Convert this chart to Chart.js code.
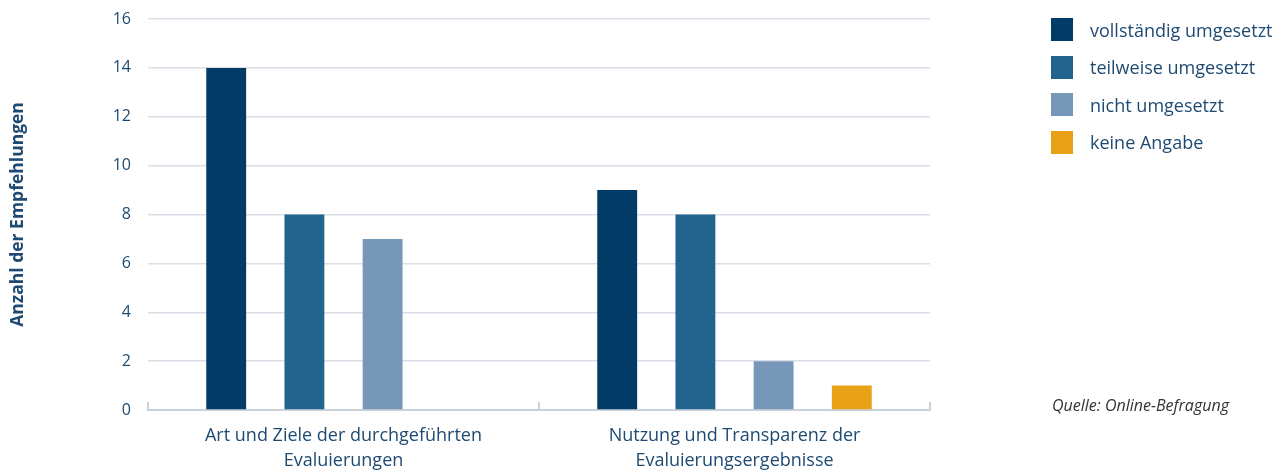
<!DOCTYPE html>
<html>
<head>
<meta charset="utf-8">
<script src="https://cdn.jsdelivr.net/npm/chart.js@4/dist/chart.umd.min.js"></script>
<style>
  html, body { margin: 0; padding: 0; background: #fff; }
  #wrap { position: relative; width: 1283px; height: 475px; }
  #c { position: absolute; left: 0; top: 0; }
  .legend { position: absolute; left: 1051px; top: 18px; font-family: "Open Sans", sans-serif; font-size: 18px; color: #1E4A72; }
  .legend .item { display: flex; align-items: center; height: 23px; margin-bottom: 14.5px; }
  .legend .sw { width: 22px; height: 23px; margin-right: 17px; flex: none; }
  .source { position: absolute; left: 1052px; top: 394px; font-family: "Open Sans", sans-serif; font-style: italic; font-size: 16px; color: #333; }
</style>
</head>
<body>
<div id="wrap">
  <canvas id="c" width="1283" height="475"></canvas>
  <div class="legend" id="legend"></div>
  <div class="source">Quelle: Online-Befragung</div>
</div>
<script>
const categories = [
  ["Art und Ziele der durchgeführten", "Evaluierungen"],
  ["Nutzung und Transparenz der", "Evaluierungsergebnisse"]
];
const seriesNames = ["vollständig umgesetzt", "teilweise umgesetzt", "nicht umgesetzt", "keine Angabe"];
const vollstaendig = [14, 9];
const teilweise = [8, 8];
const nicht = [7, 2];
const keineAngabe = [0, 1];
const seriesColors = ["#023B66", "#22648D", "#7697B8", "#E9A117"];
const yTicks = [0, 2, 4, 6, 8, 10, 12, 14, 16];

const seriesValues = [vollstaendig, teilweise, nicht, keineAngabe];
const textColor = "#1E4A72";

const legendEl = document.getElementById('legend');
seriesNames.forEach((n, i) => {
  const d = document.createElement('div');
  d.className = 'item';
  d.innerHTML = '<span class="sw" style="background:' + seriesColors[i] + '"></span><span>' + n + '</span>';
  legendEl.appendChild(d);
});

const catTicks = {
  id: 'catTicks',
  afterDraw(chart) {
    const x = chart.scales.x;
    const ctx = chart.ctx;
    const n = chart.data.labels.length;
    const xs = [chart.chartArea.left];
    for (let i = 1; i < n; i++) xs.push((x.getPixelForValue(i - 1) + x.getPixelForValue(i)) / 2);
    xs.push(chart.chartArea.right);
    const yb = chart.chartArea.bottom;
    ctx.save();
    ctx.strokeStyle = '#C9D1DB';
    ctx.lineWidth = 2;
    xs.forEach(px => {
      ctx.beginPath();
      ctx.moveTo(Math.round(px), yb);
      ctx.lineTo(Math.round(px), yb - 8);
      ctx.stroke();
    });
    ctx.restore();
  }
};

new Chart(document.getElementById('c'), {
  type: 'bar',
  data: {
    labels: categories,
    datasets: seriesNames.map((n, i) => ({
      label: n,
      data: seriesValues[i],
      backgroundColor: seriesColors[i],
      borderWidth: 0,
      categoryPercentage: 0.8,
      barPercentage: 0.51
    }))
  },
  options: {
    responsive: false,
    animation: false,
    layout: { padding: { left: 0, right: 353, top: 19, bottom: 0 } },
    plugins: { legend: { display: false }, tooltip: { enabled: false } },
    scales: {
      x: {
        offset: true,
        grid: { display: false, drawTicks: false },
        border: { display: true, color: '#C9D1DB', width: 2 },
        ticks: { color: textColor, padding: 14, font: { family: 'Open Sans', size: 18, lineHeight: 1.35 } },
        afterFit(s) { s.height = 65; s.paddingLeft = 0; s.paddingRight = 0; }
      },
      y: {
        min: 0, max: 16,
        afterBuildTicks(s) { s.ticks = yTicks.map(v => ({ value: v })); },
        grid: { color: '#D9DFE7', lineWidth: 1.5, drawTicks: false },
        border: { display: false },
        ticks: { color: textColor, padding: 17, font: { family: 'Open Sans', size: 16 } },
        title: {
          display: true,
          text: 'Anzahl der Empfehlungen',
          color: textColor,
          padding: { top: 8, bottom: 0 },
          font: { family: 'Open Sans', size: 17.5, weight: 'bold' }
        },
        afterFit(s) { s.width = 148; s.paddingTop = 0; s.paddingBottom = 0; }
      }
    }
  },
  plugins: [catTicks]
});
</script>
</body>
</html>
